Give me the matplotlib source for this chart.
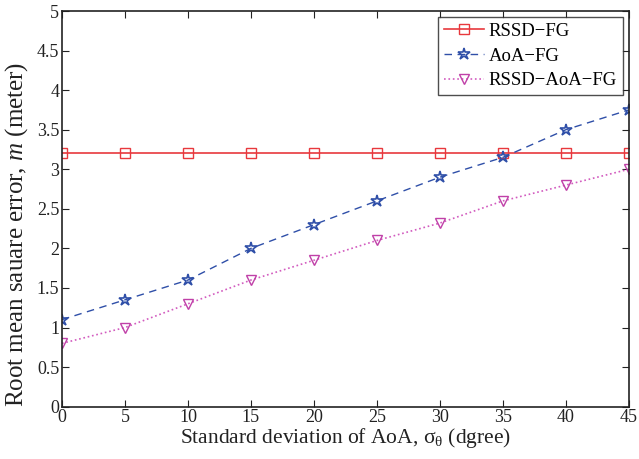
import matplotlib
matplotlib.use("Agg")
import matplotlib.pyplot as plt

plt.rcParams['font.family'] = ['Liberation Serif', 'DejaVu Serif']
plt.rcParams['mathtext.fontset'] = 'custom'
plt.rcParams['mathtext.rm'] = 'Liberation Serif'
plt.rcParams['mathtext.it'] = 'Liberation Serif:italic'

# Standard deviation of AoA (degrees)
sigma = [0, 5, 10, 15, 20, 25, 30, 35, 40, 45]
# RMSE (meters) for each method
rssd_fg = [3.2, 3.2, 3.2, 3.2, 3.2, 3.2, 3.2, 3.2, 3.2, 3.2]
aoa_fg = [1.1, 1.35, 1.6, 2.0, 2.3, 2.6, 2.9, 3.15, 3.5, 3.75]
rssd_aoa_fg = [0.8, 1.0, 1.3, 1.6, 1.85, 2.1, 2.32, 2.6, 2.8, 3.0]
labels = ['RSSD\u2212FG', 'AoA\u2212FG', 'RSSD\u2212AoA\u2212FG']
yticks = [0, 0.5, 1, 1.5, 2, 2.5, 3, 3.5, 4, 4.5, 5]
ytick_labels = ['0', '0.5', '1', '1.5', '2', '2.5', '3', '3.5', '4', '4.5', '5']

fig = plt.figure(figsize=(6.39, 4.59), dpi=100)
ax = fig.add_axes([0.097, 0.114, 0.887, 0.862])

ax.plot(sigma, rssd_fg, '-', color='#e8383d', lw=1.2, marker='s', ms=7,
        mfc='none', mec='#e8383d', mew=1.0, label=labels[0])
ax.plot(sigma, aoa_fg, '--', color='#2f4fa8', lw=1.0, marker='*', ms=9,
        mfc='none', mec='#2f4fa8', mew=1.2, dashes=(5.4, 4), label=labels[1])
ax.plot(sigma, rssd_aoa_fg, ':', color='#d25bbf', lw=1.2, marker='v', ms=7.5,
        mfc='none', mec='#c040a8', mew=1.0, label=labels[2])

ax.set_xlim(0, 45)
ax.set_ylim(0, 5)
ax.set_xticks(range(0, 46, 5))
ax.set_yticks(yticks)
ax.set_yticklabels(ytick_labels)
ax.tick_params(direction='in', top=True, right=True, length=5, width=0.8,
               labelsize=13, colors='#222222', pad=2)
for s in ax.spines.values():
    s.set_linewidth(1.2)
    s.set_color('#222222')

ax.set_xlabel('Standard deviation of AoA, σ$_{\\mathrm{θ}}$ (dgree)', fontsize=15.5,
              color='#222222', labelpad=0)
ax.set_ylabel('Root mean sauare error, $\\mathit{m}$ (meter)', fontsize=18,
              color='#222222')
ax.yaxis.set_label_coords(-0.057, 0.436)

leg = ax.legend(loc='upper right', fontsize=13.5, frameon=True, fancybox=False,
                edgecolor='#222222', borderpad=0.3, labelspacing=0.4,
                handlelength=2.13, handletextpad=0.27, borderaxespad=0.33)
leg.get_frame().set_linewidth(1.0)

fig.savefig('out.png', dpi=100)
